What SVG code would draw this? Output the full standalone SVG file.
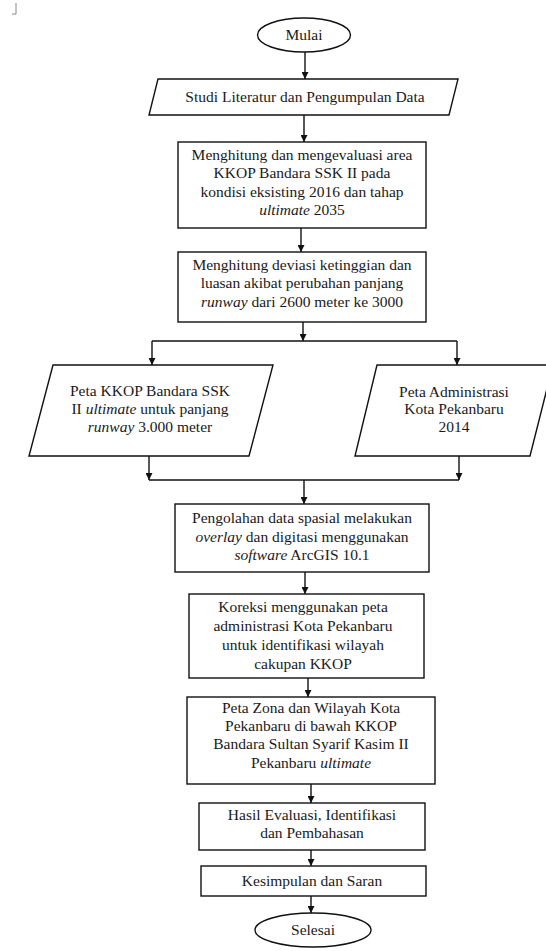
<svg xmlns="http://www.w3.org/2000/svg" width="546" height="951" viewBox="0 0 546 951">
<style>
.s{fill:#fff;stroke:#111;stroke-width:1.4}
.c{fill:none;stroke:#111;stroke-width:1.4}
text{font-family:"Liberation Serif","Times New Roman",serif;font-size:15.5px;fill:#1a1a1a;text-anchor:middle}
.i{font-style:italic}
</style>
<defs>
<marker id="ah" markerUnits="userSpaceOnUse" markerWidth="7" markerHeight="7" refX="7" refY="3.5" orient="auto">
<path d="M0,0 L7,3.5 L0,7 z" fill="#111"/>
</marker>
</defs>
<rect width="546" height="951" fill="#fff"/>
<path d="M16,3 V14 M12,14 H16" fill="none" stroke="#888" stroke-width="1"/>

<g id="connectors">
<path class="c" d="M305,52 V79" marker-end="url(#ah)"/>
<path class="c" d="M304,115 V142" marker-end="url(#ah)"/>
<path class="c" d="M301,228 V252" marker-end="url(#ah)"/>
<path class="c" d="M303,322 V341" marker-end="url(#ah)"/>
<path class="c" d="M152,341 H457"/>
<path class="c" d="M152,341 V365" marker-end="url(#ah)"/>
<path class="c" d="M457,341 V365" marker-end="url(#ah)"/>
<path class="c" d="M149,456 V480" marker-end="url(#ah)"/>
<path class="c" d="M459,456 V480" marker-end="url(#ah)"/>
<path class="c" d="M149,480 H459"/>
<path class="c" d="M304,480 V504" marker-end="url(#ah)"/>
<path class="c" d="M305,572 V594" marker-end="url(#ah)"/>
<path class="c" d="M308,678 V697" marker-end="url(#ah)"/>
<path class="c" d="M311,784 V803" marker-end="url(#ah)"/>
<path class="c" d="M311,850 V866" marker-end="url(#ah)"/>
<path class="c" d="M311,896 V913" marker-end="url(#ah)"/>
</g>

<g id="mulai">
<ellipse class="s" cx="304" cy="35" rx="46.5" ry="17"/>
<text x="304" y="40">Mulai</text>
</g>

<g id="studi">
<polygon class="s" points="158,79 458,79 449,115 149,115"/>
<text x="305" y="102">Studi Literatur dan Pengumpulan Data</text>
</g>

<g id="hitung-kkop">
<rect class="s" x="178" y="142" width="248" height="86"/>
<text x="302" y="160">Menghitung dan mengevaluasi area</text>
<text x="302" y="178">KKOP Bandara SSK II pada</text>
<text x="302" y="197">kondisi eksisting 2016 dan tahap</text>
<text x="302" y="215"><tspan class="i">ultimate</tspan> 2035</text>
</g>

<g id="hitung-deviasi">
<rect class="s" x="178" y="252" width="248" height="70"/>
<text x="302" y="270">Menghitung deviasi ketinggian dan</text>
<text x="302" y="288">luasan akibat perubahan panjang</text>
<text x="302" y="307"><tspan class="i">runway</tspan> dari 2600 meter ke 3000</text>
</g>

<g id="peta-kkop">
<polygon class="s" points="53,365 273,365 249,456 29,456"/>
<text x="150" y="396">Peta KKOP Bandara SSK</text>
<text x="150" y="414">II <tspan class="i">ultimate</tspan> untuk panjang</text>
<text x="150" y="432"><tspan class="i">runway</tspan> 3.000 meter</text>
</g>

<g id="peta-admin">
<polygon class="s" points="377,365 553,365 530,456 355,456"/>
<text x="454" y="397">Peta Administrasi</text>
<text x="454" y="414">Kota Pekanbaru</text>
<text x="454" y="432">2014</text>
</g>

<g id="pengolahan">
<rect class="s" x="175" y="504" width="254" height="68"/>
<text x="302" y="523">Pengolahan data spasial melakukan</text>
<text x="302" y="542"><tspan class="i">overlay</tspan> dan digitasi menggunakan</text>
<text x="302" y="560"><tspan class="i">software</tspan> ArcGIS 10.1</text>
</g>

<g id="koreksi">
<rect class="s" x="189" y="594" width="235" height="84"/>
<text x="303" y="612">Koreksi menggunakan peta</text>
<text x="303" y="631">administrasi Kota Pekanbaru</text>
<text x="303" y="650">untuk identifikasi wilayah</text>
<text x="303" y="669">cakupan KKOP</text>
</g>

<g id="peta-zona">
<rect class="s" x="187" y="697" width="248" height="87"/>
<text x="311" y="713">Peta Zona dan Wilayah Kota</text>
<text x="311" y="731">Pekanbaru di bawah KKOP</text>
<text x="311" y="749">Bandara Sultan Syarif Kasim II</text>
<text x="311" y="768">Pekanbaru <tspan class="i">ultimate</tspan></text>
</g>

<g id="hasil">
<rect class="s" x="199" y="803" width="226" height="47"/>
<text x="312" y="820">Hasil Evaluasi, Identifikasi</text>
<text x="312" y="838">dan Pembahasan</text>
</g>

<g id="kesimpulan">
<rect class="s" x="201" y="866" width="225" height="30"/>
<text x="312" y="886">Kesimpulan dan Saran</text>
</g>

<g id="selesai">
<ellipse class="s" cx="313" cy="930" rx="58" ry="17"/>
<text x="313" y="935">Selesai</text>
</g>
</svg>
